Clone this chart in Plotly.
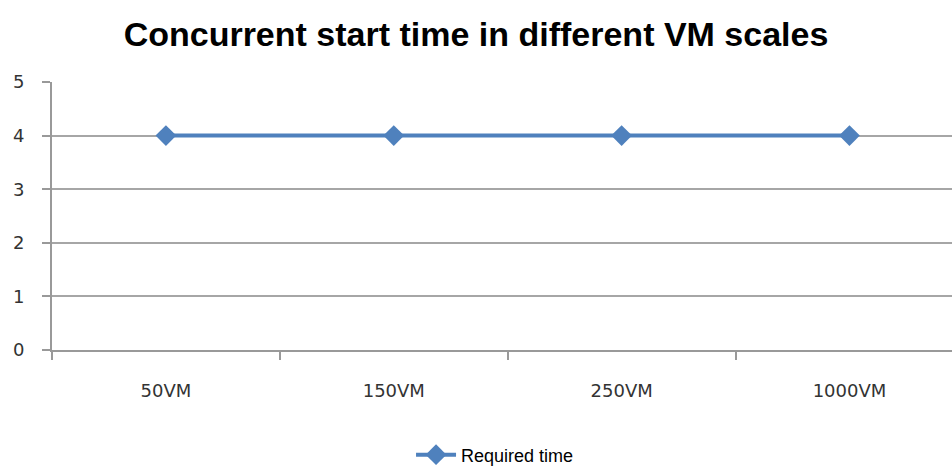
import plotly.graph_objects as go

categories = ["50VM", "150VM", "250VM", "1000VM"]
required_time = [4, 4, 4, 4]
y_ticks = [0, 1, 2, 3, 4, 5]

fig = go.Figure()
fig.add_trace(go.Scatter(
    x=categories, y=required_time, mode="lines+markers", name="Required time",
    line=dict(color="#4F81BD", width=4),
    marker=dict(symbol="diamond", size=16, color="#4F81BD"),
))

fig.update_layout(
    width=952, height=467,
    margin=dict(l=52, r=0, t=82, b=117),
    paper_bgcolor="white", plot_bgcolor="white",
    title=dict(text="<b>Concurrent start time in different VM scales</b>",
               x=0.5, xref="container", xanchor="center", y=1 - 34/467, yref="container", yanchor="middle",
               font=dict(family="Liberation Sans", size=34, color="black")),
    showlegend=True,
    legend=dict(orientation="h", x=0.52, xref="container", xanchor="center",
                y=1 - 455/467, yref="container", yanchor="middle",
                itemwidth=40,
                font=dict(family="Liberation Sans", size=18, color="black")),
    xaxis=dict(type="category", range=[-0.5, 3.45], tickson="boundaries", automargin=False,
               showgrid=False, showline=True, linecolor="#999999", linewidth=2,
               ticks="outside", ticklen=8, tickcolor="#999999", tickwidth=2,
               ticklabelstandoff=23,
               tickfont=dict(family="DejaVu Sans", size=18, color="#333333")),
    yaxis=dict(range=[0, 5], tickvals=y_ticks, showgrid=True, gridcolor="#A6A6A6", gridwidth=2,
               showline=True, linecolor="#999999", linewidth=2, zeroline=False, automargin=False,
               ticks="outside", ticklen=8, tickcolor="#999999", tickwidth=2,
               ticklabelstandoff=14,
               tickfont=dict(family="DejaVu Sans", size=18, color="#333333")),
)

fig.write_html("out.html", config={"displayModeBar": False},
               post_script="document.body.style.margin='0';document.body.style.overflow='hidden';")
